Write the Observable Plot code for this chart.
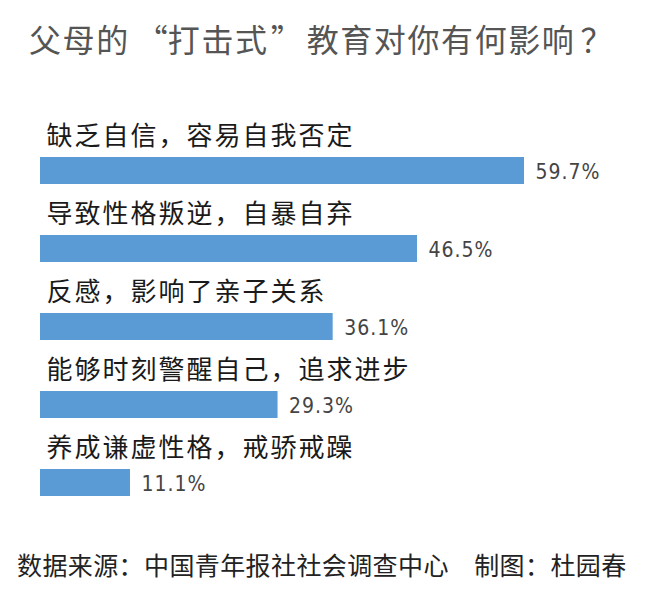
<!DOCTYPE html>
<html lang="zh-CN">
<head>
<meta charset="utf-8">
<script src="https://cdn.jsdelivr.net/npm/d3@7"></script>
<script src="https://cdn.jsdelivr.net/npm/@observablehq/plot@0.6"></script>
<style>
html,body{margin:0;padding:0;background:#fff;}
#wrap{position:relative;width:647px;height:597px;overflow:hidden;font-family:"Noto Sans CJK SC",sans-serif;}
#title{position:absolute;left:29px;top:22px;font-size:32px;line-height:32px;letter-spacing:1.6px;color:#555;white-space:nowrap;}
#title .ql{display:inline-block;width:38px;text-align:right;letter-spacing:0;}
#title .qr{display:inline-block;width:38px;text-align:left;letter-spacing:0;padding-left:2px;box-sizing:border-box;}
#title .qm{display:inline-block;margin-left:5px;}
#chart{position:absolute;left:0;top:70px;}
#foot{position:absolute;left:17px;top:552px;font-size:25px;line-height:25px;letter-spacing:0.4px;color:#222;white-space:nowrap;}
</style>
</head>
<body>
<div id="wrap">
<div id="title"></div>
<div id="chart"></div>
<div id="foot"></div>
</div>
<script>
const titleParts = ["父母的", "“", "打击式", "”", "教育对你有何影响", "？"];
const sourceText = "数据来源：中国青年报社社会调查中心　制图：杜园春";
const categories = [
  "缺乏自信，容易自我否定",
  "导致性格叛逆，自暴自弃",
  "反感，影响了亲子关系",
  "能够时刻警醒自己，追求进步",
  "养成谦虚性格，戒骄戒躁"
];
const values = [59.7, 46.5, 36.1, 29.3, 11.1];
const valueLabels = ["59.7%", "46.5%", "36.1%", "29.3%", "11.1%"];

const titleEl = document.getElementById("title");
titleParts.forEach((t, i) => {
  const s = document.createElement("span");
  if (i === 1) s.className = "ql";
  if (i === 3) s.className = "qr";
  if (i === 5) s.className = "qm";
  s.textContent = t;
  titleEl.appendChild(s);
});
document.getElementById("foot").textContent = sourceText;

const data = categories.map((c, i) => ({category: c, value: values[i], label: valueLabels[i]}));

const chart = Plot.plot({
  width: 647,
  height: 460,
  marginLeft: 40,
  marginRight: 123,
  marginTop: 0,
  marginBottom: 0,
  style: {background: "transparent", fontFamily: "'Noto Sans CJK SC', sans-serif"},
  x: {domain: [0, 59.7], axis: null},
  y: {domain: categories, range: [87, 430], paddingInner: 0.658, paddingOuter: 0, align: 0, axis: null},
  marks: [
    Plot.barX(data, {x: "value", y: "category", fill: "#5b9bd5"}),
    Plot.text(data, {x: 0, y: "category", text: "category", textAnchor: "start", lineAnchor: "middle",
      dx: 6, dy: -34, fontSize: 26, fill: "#1a1a1a", fontFamily: "'Noto Sans CJK SC', sans-serif"}),
    Plot.text(data, {x: "value", y: "category", text: "label", textAnchor: "start", lineAnchor: "middle",
      dx: 11, dy: 1, fontSize: 21, fill: "#444", fontFamily: "'Liberation Sans Narrow', 'DejaVu Sans Condensed', 'Liberation Sans', sans-serif"})
  ]
});
const textGroups = chart.querySelectorAll("g[aria-label='text']");
if (textGroups[0]) textGroups[0].setAttribute("letter-spacing", "2");
if (textGroups[1]) {
  textGroups[1].setAttribute("letter-spacing", "1");
  textGroups[1].style.fontStretch = "condensed";
}
document.getElementById("chart").appendChild(chart);
</script>
</body>
</html>
